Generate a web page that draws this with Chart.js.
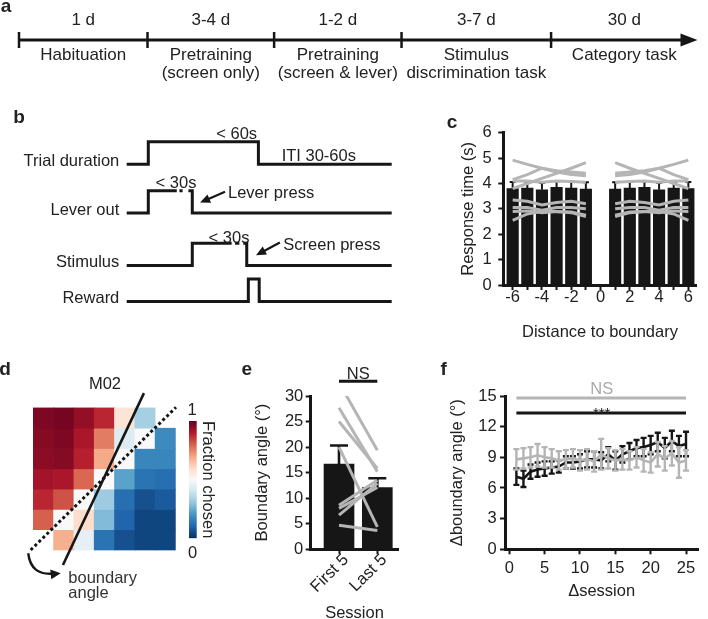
<!DOCTYPE html>
<html><head><meta charset="utf-8">
<script src="https://cdn.jsdelivr.net/npm/chart.js@4.4.1/dist/chart.umd.min.js"></script>
<style>
html,body{margin:0;padding:0;background:#fff;}
body{width:708px;height:619px;position:relative;overflow:hidden;font-family:"Liberation Sans",Arial,sans-serif;color:#222;}
canvas{position:absolute;}
</style></head><body>
<script>
// ---------- panel a : training timeline ----------
const stageNames = [['Habituation'], ['Pretraining','(screen only)'], ['Pretraining','(screen & lever)'], ['Stimulus','discrimination task'], ['Category task']];
const stageDurations = ['1 d', '3-4 d', '1-2 d', '3-7 d', '30 d'];
const stageEdges = [0, 0.947, 1.880, 2.819, 3.921, 5.0];

// ---------- panel b : trial structure ----------
const traceNames = ['Trial duration', 'Lever out', 'Stimulus', 'Reward'];
const traceBaselines = [6.12, 3.94, 1.6, 0];
const trialTrace  = [[0,0],[8.15,0],[8.15,1],[49.7,1],[49.7,0],[100,0]];
const leverTrace  = [[0,0],[8.15,0],[8.15,1],[18.9,1],null,[19.9,1],[21.1,1],null,[23.3,1],[24.75,1],[24.75,0],[100,0]];
const stimTrace   = [[0,0],[24.75,0],[24.75,1],[39.6,1],null,[40.9,1],[42.5,1],null,[44.0,1],[45.3,1],[45.3,0],[100,0]];
const rewardTrace = [[0,0],[45.9,0],[45.9,1],[50.0,1],[50.0,0],[100,0]];

// ---------- panel c : response time ----------
const distances = [-6,-5,-4,-3,-2,-1,1,2,3,4,5,6];
const rtMean = [3.80,3.82,3.75,3.85,3.82,3.78, 3.78,3.82,3.85,3.75,3.82,3.80];
const rtSem  = [0.26,0.25,0.28,0.24,0.25,0.27, 0.27,0.25,0.24,0.28,0.25,0.26];
const rtMouse1 = [4.92,4.75,4.60,4.45,4.35,4.30, 4.30,4.35,4.45,4.60,4.75,4.92];
const rtMouse2 = [3.80,4.00,4.20,4.40,4.60,4.82, 4.82,4.60,4.40,4.20,4.00,3.80];
const rtMouse3 = [4.15,4.35,4.60,4.50,4.45,4.40, 4.40,4.45,4.50,4.60,4.35,4.15];
const rtMouse4 = [4.10,4.10,4.05,4.10,4.08,4.05, 4.05,4.08,4.10,4.05,4.10,4.10];
const rtMouse5 = [3.35,3.30,3.15,3.25,3.30,3.20, 3.20,3.30,3.25,3.15,3.30,3.35];
const rtMouse6 = [3.05,3.05,2.95,3.05,3.05,3.00, 3.00,3.05,3.05,2.95,3.05,3.05];
const rtMouse7 = [2.90,2.92,2.85,2.90,2.88,2.75, 2.75,2.88,2.90,2.85,2.92,2.90];
const rtMouse8 = [2.55,2.80,2.90,2.90,2.85,2.70, 2.70,2.85,2.90,2.90,2.80,2.55];
const rtMice = [rtMouse1, rtMouse2, rtMouse3, rtMouse4, rtMouse5, rtMouse6, rtMouse7, rtMouse8];

// ---------- panel d : M02 choice map (rows top->bottom, cols left->right) ----------
const heatRow0 = [0.97,0.98,0.94,0.88,0.57,0.33,null];
const heatRow1 = [0.96,0.97,0.91,0.76,0.43,0.50,0.18];
const heatRow2 = [0.95,0.96,0.89,0.69,0.50,0.17,0.17];
const heatRow3 = [0.92,0.91,0.79,0.50,0.23,0.13,0.12];
const heatRow4 = [0.88,0.82,0.50,0.32,0.12,0.06,0.08];
const heatRow5 = [0.80,0.50,0.59,0.28,0.10,0.04,0.04];
const heatRow6 = [null,0.68,0.45,0.13,0.06,0.04,0.04];
const heatRows = [heatRow0, heatRow1, heatRow2, heatRow3, heatRow4, heatRow5, heatRow6];
const boundarySolid  = [[5.45,7.73],[1.46,-0.74]];
const boundaryDotted = [[-0.13,0.0],[7.03,7.03]];

// ---------- panel e : boundary angle ----------
const sessionGroups = ['First 5', 'Last 5'];
const angleMean = [16.7, 12.1];
const angleSem  = [3.6, 1.8];
const angleMouse1 = [32.6, 19.4];
const angleMouse2 = [27.7, 15.2];
const angleMouse3 = [25.0, 15.8];
const angleMouse4 = [20.0, 4.4];
const angleMouse5 = [8.6, 13.5];
const angleMouse6 = [6.7, 12.9];
const angleMouse7 = [4.7, 3.7];
const angleMouse8 = [8.0, 12.1];
const angleMice = [angleMouse1, angleMouse2, angleMouse3, angleMouse4, angleMouse5, angleMouse6, angleMouse7, angleMouse8];

// ---------- panel f : delta boundary angle ----------
const deltaSession = [1,2,3,4,5,6,7,8,9,10,11,12,13,14,15,16,17,18,19,20,21,22,23,24,25];
const dAngleBlack    = [7.1,6.9,7.6,7.8,7.9,8.0,8.1,8.5,8.5,8.6,8.8,8.8,8.7,9.3,8.7,9.3,9.6,9.9,10.0,10.2,10.5,9.9,10.6,10.1,10.3];
const dAngleBlackSem = [0.8,0.8,0.7,0.7,0.7,0.6,0.6,0.6,0.6,0.7,0.8,0.8,0.8,0.7,0.9,0.8,0.8,0.8,0.9,0.9,0.9,1.0,1.0,1.0,1.2];
const dAngleGray     = [8.8,8.9,9.0,9.2,9.0,8.9,8.7,8.8,8.9,8.7,8.8,8.6,9.3,8.9,8.7,8.8,8.7,9.0,8.7,8.5,9.3,8.9,9.4,8.5,8.7];
const dAngleGraySem  = [1.0,1.0,1.0,1.1,1.0,0.9,0.9,0.9,0.9,1.0,1.0,1.0,1.5,1.0,1.0,1.0,0.9,1.0,1.1,1.0,1.2,1.2,1.2,1.5,1.0];
const sigSpan = [1, 25];
const sigGrayLevel = 14.8;
const sigBlackLevel = 13.33;

// =====================================================================
Chart.defaults.font.family = '"Liberation Sans", Arial, sans-serif';
Chart.defaults.font.size = 16.5;
Chart.defaults.color = '#222';
Chart.defaults.animation = false;
Chart.defaults.responsive = false;
Chart.defaults.devicePixelRatio = 1;
Chart.defaults.events = [];
Chart.defaults.plugins.legend.display = false;
Chart.defaults.plugins.tooltip.enabled = false;

const INK = '#161616', GRAY = '#b5b5b5';

function makeCanvas(left, top, w, h) {
  const c = document.createElement('canvas');
  c.width = w; c.height = h;
  c.style.left = left + 'px'; c.style.top = top + 'px';
  c.style.width = w + 'px'; c.style.height = h + 'px';
  document.body.appendChild(c);
  return c;
}
function addText(txt, x, y, o = {}) {
  const d = document.createElement('div');
  d.textContent = txt;
  d.style.cssText = 'position:absolute;left:' + x + 'px;top:' + y + 'px;font-size:' + (o.size || 16.5) + 'px;line-height:1;white-space:nowrap;color:' + (o.color || '#222') + ';font-weight:' + (o.bold ? 'bold' : 'normal') + ';transform:translate(' + (o.align === 'left' ? '0' : '-50%') + ',-50%);';
  document.body.appendChild(d);
}
const fixW = w => s => { s.width = w; };
const fixH = h => s => { s.height = h; };
function arrowHead(ctx, x, y, ang, len, hw) {
  const c = Math.cos(ang), s = Math.sin(ang);
  ctx.beginPath();
  ctx.moveTo(x, y);
  ctx.lineTo(x - len * c + hw * s, y - len * s - hw * c);
  ctx.lineTo(x - len * c - hw * s, y - len * s + hw * c);
  ctx.closePath(); ctx.fill();
}
const errPlugin = {
  id: 'errbars',
  afterDatasetDraw(chart, args) {
    const ds = chart.data.datasets[args.index];
    if (!ds.errPlus) return;
    const ctx = chart.ctx, xs = chart.scales.x, ys = chart.scales.y;
    ctx.save();
    ctx.strokeStyle = ds.errColor; ctx.lineWidth = ds.errWidth;
    ds.data.forEach((p, j) => {
      if (!p || p.y == null) return;
      const px = xs.getPixelForValue(p.x);
      const top = ys.getPixelForValue(p.y + ds.errPlus[j]);
      const bot = ys.getPixelForValue(p.y - (ds.errMinus ? ds.errMinus[j] : 0));
      ctx.beginPath();
      ctx.moveTo(px, bot); ctx.lineTo(px, top);
      ctx.moveTo(px - ds.capW / 2, top); ctx.lineTo(px + ds.capW / 2, top);
      if (ds.errMinus) { ctx.moveTo(px - ds.capW / 2, bot); ctx.lineTo(px + ds.capW / 2, bot); }
      ctx.stroke();
    });
    ctx.restore();
  }
};
const sigPlugin = {
  id: 'sig',
  afterDraw(chart, args, opts) {
    const ctx = chart.ctx, xs = chart.scales.x, ys = chart.scales.y;
    (opts.lines || []).forEach(l => {
      ctx.save(); ctx.strokeStyle = l.color; ctx.lineWidth = l.width;
      ctx.beginPath();
      ctx.moveTo(xs.getPixelForValue(l.x0), ys.getPixelForValue(l.y));
      ctx.lineTo(xs.getPixelForValue(l.x1), ys.getPixelForValue(l.y));
      ctx.stroke(); ctx.restore();
    });
  }
};
const axisStyle = {
  grid: { drawOnChartArea: false, tickLength: 5, tickWidth: 2, tickColor: INK, offset: false },
  border: { width: 3, color: INK }
};
const noGrid = { display: false, drawTicks: false };

// ---------------- panel a ----------------
(function () {
  const mids = stageNames.map((_, i) => (stageEdges[i] + stageEdges[i + 1]) / 2);
  const cv = makeCanvas(0, 0, 708, 92);
  new Chart(cv, {
    type: 'line',
    data: { datasets: [
      { data: [{ x: stageEdges[0], y: 0 }, { x: stageEdges[5] - 0.05, y: 0 }], borderColor: INK, borderWidth: 3, pointRadius: 0, clip: false },
      { data: stageEdges.slice(0, 5).map(v => ({ x: v, y: 0 })), showLine: false, pointStyle: 'line', rotation: 90, pointRadius: 8, pointBorderWidth: 2.5, pointBorderColor: INK, borderColor: INK, clip: false }
    ]},
    options: {
      layout: { padding: { left: 19, right: 8, top: 0, bottom: 0 } },
      scales: {
        x: { type: 'linear', min: 0, max: 5, afterFit: fixH(48),
             afterBuildTicks: s => { s.ticks = mids.map(v => ({ value: v })); },
             ticks: { autoSkip: false, maxRotation: 0, padding: 3, font: { size: 17, lineHeight: 1.02 }, callback: (v, i) => stageNames[i] },
             grid: noGrid, border: { display: false } },
        x2: { type: 'linear', position: 'top', min: 0, max: 5, afterFit: fixH(36),
             afterBuildTicks: s => { s.ticks = mids.map(v => ({ value: v })); },
             ticks: { autoSkip: false, maxRotation: 0, padding: 5.8, font: { size: 17 }, callback: (v, i) => stageDurations[i] },
             grid: noGrid, border: { display: false } },
        y: { display: false, min: -1, max: 1 }
      }
    },
    plugins: [{ id: 'tipA', afterDatasetsDraw(chart) {
      const ctx = chart.ctx; ctx.save(); ctx.fillStyle = INK;
      arrowHead(ctx, chart.scales.x.getPixelForValue(stageEdges[5]), chart.scales.y.getPixelForValue(0), 0, 17, 6.5);
      ctx.restore();
    } }]
  });
})();

// ---------------- panel b ----------------
(function () {
  const traces = [trialTrace, leverTrace, stimTrace, rewardTrace];
  const toPts = (tr, base) => {
    const out = []; let lastX = 0;
    tr.forEach(p => {
      if (p === null) out.push({ x: lastX + 0.01, y: null });
      else { out.push({ x: p[0], y: base + p[1] }); lastX = p[0]; }
    });
    return out;
  };
  const cv = makeCanvas(0, 90, 420, 240);
  new Chart(cv, {
    type: 'line',
    data: { datasets: traces.map((tr, i) => ({
      data: toPts(tr, traceBaselines[i]), borderColor: INK, borderWidth: 3, pointRadius: 0,
      spanGaps: false, borderJoinStyle: 'miter', borderCapStyle: 'butt', clip: false
    })) },
    options: {
      layout: { padding: { left: 0, right: 28.3, top: 43.2, bottom: 12.8 } },
      scales: {
        x: { type: 'linear', min: 0, max: 100, display: false },
        y: { type: 'linear', min: -0.5, max: 7.5, afterFit: fixW(126.7),
             afterBuildTicks: s => { s.ticks = traceBaselines.map(v => ({ value: v })); },
             ticks: { padding: 7.4, labelOffset: -3, autoSkip: false, callback: (v, i) => traceNames[i] },
             grid: noGrid, border: { display: false } }
      }
    },
    plugins: [{ id: 'arrB', afterDatasetsDraw(chart) {
      const ctx = chart.ctx, xs = chart.scales.x, ys = chart.scales.y;
      const arrows = [[37.1, 4.89, 27.7, 4.41], [57.8, 2.63, 48.8, 2.06]];
      ctx.save(); ctx.strokeStyle = INK; ctx.fillStyle = INK; ctx.lineWidth = 2.2;
      arrows.forEach(a => {
        const x1 = xs.getPixelForValue(a[0]), y1 = ys.getPixelForValue(a[1]);
        const x2 = xs.getPixelForValue(a[2]), y2 = ys.getPixelForValue(a[3]);
        const ang = Math.atan2(y2 - y1, x2 - x1);
        ctx.beginPath(); ctx.moveTo(x1, y1); ctx.lineTo(x2 - 6 * Math.cos(ang), y2 - 6 * Math.sin(ang)); ctx.stroke();
        arrowHead(ctx, x2, y2, ang, 10, 4.5);
      });
      ctx.restore();
    } }]
  });
  addText('< 60s', 236.7, 133.3);
  addText('ITI 30-60s', 281.7, 155, { align: 'left' });
  addText('< 30s', 176, 182);
  addText('Lever press', 228, 191.7, { align: 'left' });
  addText('< 30s', 229, 236.7);
  addText('Screen press', 283.3, 244.3, { align: 'left' });
})();

// ---------------- panel c ----------------
(function () {
  const gapped = vals => {
    const out = [];
    distances.forEach((d, i) => {
      if (i > 0 && distances[i - 1] < 0 && d > 0) out.push({ x: 0, y: null });
      out.push({ x: d, y: vals[i] });
    });
    return out;
  };
  const cv = makeCanvas(440, 110, 265, 235);
  new Chart(cv, {
    type: 'bar',
    data: { datasets: [
      { type: 'bar', data: distances.map((d, i) => ({ x: d, y: rtMean[i] })), backgroundColor: INK, barThickness: 11.5, order: 3,
        errPlus: rtSem, errColor: INK, errWidth: 2, capW: 6 },
      ...rtMice.map(vals => ({ type: 'line', data: gapped(vals), borderColor: GRAY, borderWidth: 3, pointRadius: 0, order: 1, spanGaps: false }))
    ]},
    options: {
      layout: { padding: { left: 18.4, right: 8.3, top: 22.7, bottom: 2.4 } },
      scales: {
        x: { type: 'linear', min: -6.64, max: 6.57, offset: false, afterFit: fixH(57.6),
             afterBuildTicks: s => { s.ticks = s.ticks.filter(t => Number.isInteger(t.value) && Math.abs(t.value) <= 6); },
             ticks: { stepSize: 1, includeBounds: false, padding: -1, autoSkip: false, maxRotation: 0, font: { lineHeight: 1 },
                      callback: v => (v % 2 === 0 ? String(v) : '') },
             ...axisStyle,
             title: { display: true, text: 'Distance to boundary', padding: 0 } },
        y: { min: 0, max: 6, afterFit: fixW(44.9),
             ticks: { stepSize: 1, padding: 6.5, font: { lineHeight: 1 } },
             ...axisStyle,
             title: { display: true, text: 'Response time (s)', padding: 0 } }
      }
    },
    plugins: [errPlugin]
  });
})();

// ---------------- panel d ----------------
const rdbu = ['#053061','#2166ac','#4393c3','#92c5de','#d1e5f0','#f9f9f9','#fddbc7','#f4a582','#d6604d','#b2182b','#67001f'];
function hexRgb(h) { return [1, 3, 5].map(i => parseInt(h.substr(i, 2), 16)); }
function cmap(v) {
  const t = Math.max(0, Math.min(1, v)) * 10, i = Math.min(9, Math.floor(t)), f = t - i;
  const a = hexRgb(rdbu[i]), b = hexRgb(rdbu[i + 1]);
  return 'rgb(' + a.map((c, k) => Math.round(c + (b[k] - c) * f)).join(',') + ')';
}
(function () {
  const cv = makeCanvas(13, 377, 173, 203);
  const cell = 20.3;
  const datasets = heatRows.map((row, r) => {
    const pts = [], cols = [];
    row.forEach((v, c) => { if (v !== null) { pts.push({ x: c + 0.5, y: [6 - r, 7 - r] }); cols.push(cmap(v)); } });
    return { type: 'bar', data: pts, backgroundColor: cols, grouped: false, barPercentage: 1, categoryPercentage: 1, borderWidth: 0, order: 5 };
  });
  datasets.push({ type: 'line', data: boundarySolid.map(p => ({ x: p[0], y: p[1] })), borderColor: INK, borderWidth: 2.6, pointRadius: 0, clip: false, order: 1 });
  datasets.push({ type: 'line', data: boundaryDotted.map(p => ({ x: p[0], y: p[1] })), borderColor: INK, borderWidth: 3, borderDash: [3, 2.6], pointRadius: 0, clip: false, order: 1 });
  new Chart(cv, {
    type: 'bar',
    data: { datasets },
    options: {
      layout: { padding: 0 },
      scales: {
        x: { type: 'linear', min: -1, max: -1 + 173 / cell, offset: false, display: false },
        y: { type: 'linear', min: 8.522 - 203 / cell, max: 8.522, display: false }
      }
    },
    plugins: [{ id: 'curve', afterDatasetsDraw(chart) {
      const ctx = chart.ctx, xs = chart.scales.x, ys = chart.scales.y;
      const P = (x, y) => [xs.getPixelForValue(x), ys.getPixelForValue(y)];
      const s = P(-0.25, -0.16), c = P(-0.12, -1.3), e = P(1.35, -1.15);
      ctx.save(); ctx.strokeStyle = INK; ctx.fillStyle = INK; ctx.lineWidth = 2.4;
      ctx.beginPath(); ctx.moveTo(s[0], s[1]); ctx.quadraticCurveTo(c[0], c[1], e[0] - 6, e[1]); ctx.stroke();
      arrowHead(ctx, e[0], e[1], Math.atan2(e[1] - c[1], e[0] - c[0]), 10, 5);
      ctx.restore();
    } }]
  });
  addText('M02', 105, 383);
  addText('boundary', 68.3, 577, { align: 'left', color: '#333' });
  addText('angle', 68.3, 592, { align: 'left', color: '#333' });
  addText('1', 192, 409);
  addText('0', 192.5, 552);
  // colour bar
  const cb = makeCanvas(185, 400, 35, 160);
  new Chart(cb, {
    type: 'bar',
    data: { labels: [''], datasets: [{ data: [[0, 1]], barPercentage: 1, categoryPercentage: 1, borderWidth: 0,
      backgroundColor: ctx => {
        const area = ctx.chart.chartArea; if (!area) return '#888';
        const g = ctx.chart.ctx.createLinearGradient(0, area.bottom, 0, area.top);
        rdbu.forEach((col, i) => g.addColorStop(i / 10, col));
        return g;
      } }] },
    options: {
      layout: { padding: { left: 4, right: 2.9, top: 21, bottom: 21.7 } },
      scales: {
        x: { display: false },
        y: { position: 'right', min: 0, max: 1, afterFit: fixW(20.4), ticks: { display: false }, grid: noGrid, border: { display: false },
             title: { display: true, text: 'Fraction chosen', padding: 0 } }
      }
    }
  });
})();

// ---------------- panel e ----------------
(function () {
  const groupX = [1, 2];
  const cv = makeCanvas(240, 360, 170, 265);
  new Chart(cv, {
    type: 'bar',
    data: { datasets: [
      { type: 'bar', data: groupX.map((g, i) => ({ x: g, y: angleMean[i] })), backgroundColor: INK, barThickness: 30, order: 3,
        errPlus: angleSem, errColor: INK, errWidth: 2.6, capW: 18 },
      ...angleMice.map(v => ({ type: 'line', data: groupX.map((g, i) => ({ x: g, y: v[i] })), borderColor: GRAY, borderWidth: 3, pointRadius: 0, order: 1 }))
    ]},
    options: {
      layout: { padding: { left: 12.9, right: 11.7, top: 36, bottom: 2.1 } },
      scales: {
        x: { type: 'linear', min: 0.261, max: 2.548, offset: false, afterFit: fixH(73.6),
             afterBuildTicks: s => { s.ticks = groupX.map(v => ({ value: v })); },
             ticks: { minRotation: 45, maxRotation: 45, padding: -4, labelOffset: 7, autoSkip: false, callback: (v, i) => sessionGroups[i] },
             ...axisStyle,
             title: { display: true, text: 'Session', padding: 0 } },
        y: { min: 0, max: 30, afterFit: fixW(57.8),
             ticks: { stepSize: 5, padding: 2.4, font: { lineHeight: 1 } },
             ...axisStyle,
             title: { display: true, text: 'Boundary angle (°)', padding: 0 } }
      },
      plugins: { sig: { lines: [{ x0: 1, x1: 2, y: 32.9, color: INK, width: 3 }] } }
    },
    plugins: [errPlugin, sigPlugin]
  });
  addText('NS', 358.3, 373.3);
})();

// ---------------- panel f ----------------
(function () {
  const cv = makeCanvas(440, 360, 268, 265);
  new Chart(cv, {
    type: 'line',
    data: { datasets: [
      { data: deltaSession.map((s, i) => ({ x: s, y: dAngleBlack[i] })), borderColor: INK, borderWidth: 2.6, pointRadius: 0, order: 2,
        errPlus: dAngleBlackSem, errMinus: dAngleBlackSem, errColor: INK, errWidth: 2.4, capW: 6 },
      { data: deltaSession.map((s, i) => ({ x: s, y: dAngleGray[i] })), borderColor: GRAY, borderWidth: 2.6, pointRadius: 0, order: 1,
        errPlus: dAngleGraySem, errMinus: dAngleGraySem, errColor: GRAY, errWidth: 2.4, capW: 6 }
    ]},
    options: {
      layout: { padding: { left: 7.1, right: 9.7, top: 36, bottom: 23.7 } },
      scales: {
        x: { type: 'linear', min: -0.61, max: 26.74, afterFit: fixH(52),
             afterBuildTicks: s => { s.ticks = s.ticks.filter(t => t.value >= 0 && t.value <= 25 && t.value % 5 === 0); },
             ticks: { stepSize: 5, includeBounds: false, padding: 6, autoSkip: false, maxRotation: 0, font: { lineHeight: 1 } },
             ...axisStyle,
             title: { display: true, text: 'Δsession', padding: 0 } },
        y: { min: 0, max: 15, afterFit: fixW(57.9),
             ticks: { stepSize: 3, padding: 3.3, font: { lineHeight: 1 } },
             ...axisStyle,
             title: { display: true, text: 'Δboundary angle (°)', padding: 0 } }
      },
      plugins: { sig: { lines: [
        { x0: sigSpan[0], x1: sigSpan[1], y: sigGrayLevel, color: GRAY, width: 3 },
        { x0: sigSpan[0], x1: sigSpan[1], y: sigBlackLevel, color: INK, width: 3 }
      ] } }
    },
    plugins: [errPlugin, sigPlugin]
  });
  addText('NS', 601.7, 388.3, { color: '#aaa' });
  addText('***', 601.7, 412, { size: 15 });
})();

// panel letters
addText('a', 6, 5, { bold: true, size: 19 });
addText('b', 19, 116, { bold: true, size: 19 });
addText('c', 452, 121, { bold: true, size: 19 });
addText('d', 5, 368, { bold: true, size: 19 });
addText('e', 246.7, 368, { bold: true, size: 19 });
addText('f', 443.7, 367.5, { bold: true, size: 19 });
</script>
</body></html>
